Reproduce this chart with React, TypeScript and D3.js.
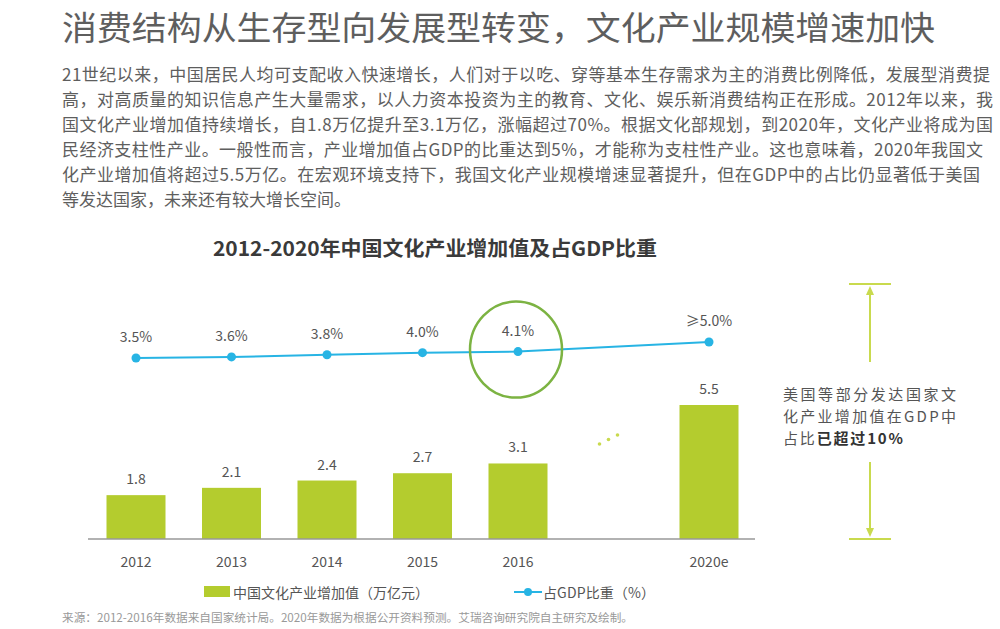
import React from 'react'
import { scaleLinear, scalePoint, line } from 'd3'

const headline = '消费结构从生存型向发展型转变，文化产业规模增速加快'
const paragraph = [
  '21世纪以来，中国居民人均可支配收入快速增长，人们对于以吃、穿等基本生存需求为主的消费比例降低，发展型消费提',
  '高，对高质量的知识信息产生大量需求，以人力资本投资为主的教育、文化、娱乐新消费结构正在形成。2012年以来，我',
  '国文化产业增加值持续增长，自1.8万亿提升至3.1万亿，涨幅超过70%。根据文化部规划，到2020年，文化产业将成为国',
  '民经济支柱性产业。一般性而言，产业增加值占GDP的比重达到5%，才能称为支柱性产业。这也意味着，2020年我国文',
  '化产业增加值将超过5.5万亿。在宏观环境支持下，我国文化产业规模增速显著提升，但在GDP中的占比仍显著低于美国',
  '等发达国家，未来还有较大增长空间。',
]
const chartTitle = '2012-2020年中国文化产业增加值及占GDP比重'

const years = ['2012', '2013', '2014', '2015', '2016', '2020e']
const slots = ['2012', '2013', '2014', '2015', '2016', 'gap', '2020e']
const valueAdded = [1.8, 2.1, 2.4, 2.7, 3.1, 5.5]
const valueLabels = ['1.8', '2.1', '2.4', '2.7', '3.1', '5.5']
const gdpShare = [3.5, 3.6, 3.8, 4.0, 4.1, 5.0]
const shareLabels = ['3.5%', '3.6%', '3.8%', '4.0%', '4.1%', '≥5.0%']
const legendBar = '中国文化产业增加值（万亿元）'
const legendLine = '占GDP比重（%）'
const noteLines = ['美国等部分发达国家文', '化产业增加值在GDP中']
const notePrefix = '占比'
const noteBold = '已超过10%'
const source = '来源：2012-2016年数据来自国家统计局。2020年数据为根据公开资料预测。艾瑞咨询研究院自主研究及绘制。'

const font = '"Noto Sans CJK SC", "Noto Sans", sans-serif'
const green = '#b4cc2e'
const blue = '#27b4e4'
const pale = '#c9da4e'

export default function App() {
  const x = scalePoint<string>().domain(slots).range([136, 709])
  const yBar = scaleLinear().domain([0, 5.5]).range([539, 405])
  const yLine = scaleLinear().domain([3.5, 5.0]).range([358, 342])
  const barW = 59
  const base = yBar(0)

  const pts = years.map((yr, i) => [x(yr) as number, yLine(gdpShare[i])] as [number, number])
  const path = line()(pts) || ''

  const gapX = x('gap') as number
  const hl = yLine(gdpShare[4])
  const paraWidths = [928, 931, 931, 921, 918, 0]

  return (
    <div style={{ position: 'absolute', left: 0, top: 0 }}>
      <svg width={1000} height={629} style={{ display: 'block', fontFamily: font }}>
        <rect width={1000} height={629} fill="#fff" />
        <text x={62} y={26} fontSize={33} fill="#5e5e5e" dominantBaseline="central" textLength={873} lengthAdjust="spacingAndGlyphs">{headline}</text>
        {paragraph.map((t, i) => (
          <text key={i} x={62} y={73 + i * 25} fontSize={17} fill="#5e5e5e" dominantBaseline="central"
            {...(paraWidths[i] ? { textLength: paraWidths[i], lengthAdjust: 'spacing' } : {})}>{t}</text>
        ))}

        <text x={435} y={247} fontSize={20} fontWeight="bold" fill="#3a3a3a" textAnchor="middle" dominantBaseline="central" textLength={444} lengthAdjust="spacingAndGlyphs">{chartTitle}</text>

        {years.map((yr, i) => (
          <g key={yr}>
            <rect x={(x(yr) as number) - barW / 2} y={yBar(valueAdded[i])} width={barW} height={base - yBar(valueAdded[i])} fill={green} />
            <text x={x(yr)} y={yBar(valueAdded[i]) - 17} fontSize={14} fill="#555" textAnchor="middle" dominantBaseline="central">{valueLabels[i]}</text>
            <text x={x(yr)} y={base + 22} fontSize={14} fill="#555" textAnchor="middle" dominantBaseline="central">{yr}</text>
          </g>
        ))}
        <line x1={(x.range()[0]) - 48} x2={(x.range()[1]) + 46} y1={base} y2={base} stroke="#999" strokeWidth={1.5} />

        {[-14, -5, 4].map((d, i) => (
          <circle key={i} cx={gapX + d} cy={444 - i * 4.5} r={1.8} fill={pale} />
        ))}

        <path d={path} fill="none" stroke={blue} strokeWidth={2} />
        {pts.map((p, i) => (
          <g key={i}>
            <circle cx={p[0]} cy={p[1]} r={4.5} fill={blue} />
            <text x={p[0]} y={p[1] - 22} fontSize={14} fill="#555" textAnchor="middle" dominantBaseline="central">{shareLabels[i]}</text>
          </g>
        ))}
        <ellipse cx={(x('2016') as number) - 2} cy={hl - 2} rx={46} ry={48} fill="none" stroke="#7cb342" strokeWidth={2.5} />

        <g stroke={pale} strokeWidth={2}>
          <line x1={849} x2={891} y1={284} y2={284} />
          <line x1={870} x2={870} y1={290} y2={362} />
          <line x1={849} x2={891} y1={base} y2={base} />
          <line x1={870} x2={870} y1={462} y2={base - 6} />
        </g>
        <path d={`M870,286 L866,295 L874,295 Z`} fill={pale} />
        <path d={`M870,${base - 2} L866,${base - 11} L874,${base - 11} Z`} fill={pale} />
        <text x={783} y={393} fontSize={15} fill="#555" dominantBaseline="central" textLength={173} lengthAdjust="spacing">{noteLines[0]}</text>
        <text x={783} y={415} fontSize={15} fill="#555" dominantBaseline="central" textLength={173} lengthAdjust="spacing">{noteLines[1]}</text>
        <text x={783} y={437} fontSize={15} fill="#555" dominantBaseline="central" textLength={120} lengthAdjust="spacing">
          {notePrefix}<tspan fontWeight="bold" fill="#333">{noteBold}</tspan>
        </text>

        <rect x={204} y={586} width={26} height={11} fill={green} />
        <text x={233} y={592} fontSize={14} fill="#555" dominantBaseline="central" textLength={196} lengthAdjust="spacing">{legendBar}</text>
        <line x1={514} x2={542} y1={592} y2={592} stroke={blue} strokeWidth={2} />
        <circle cx={528} cy={592} r={4} fill={blue} />
        <text x={543} y={592} fontSize={14} fill="#555" dominantBaseline="central" textLength={112} lengthAdjust="spacing">{legendLine}</text>

        <text x={62} y={617} fontSize={11.5} fill="#999" dominantBaseline="central" textLength={571} lengthAdjust="spacingAndGlyphs">{source}</text>
      </svg>
    </div>
  )
}
